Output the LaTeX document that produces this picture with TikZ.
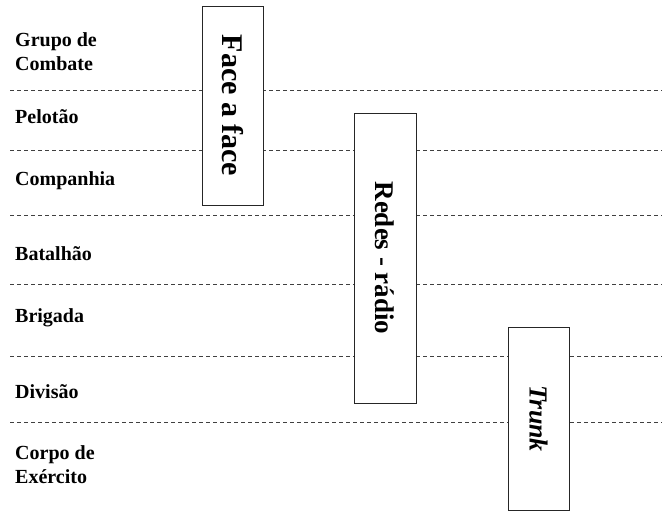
\documentclass[tikz,border=0pt]{standalone}
\usepackage{fontspec}
\setmainfont{Liberation Serif}
\begin{document}
\begin{tikzpicture}[x=1pt,y=-1pt,
  lvl/.style={anchor=base west, inner sep=0pt, font=\fontsize{20}{24}\selectfont\bfseries},
  sepline/.style={draw=black!75, dash pattern=on 4pt off 3pt, line width=1pt},
  band/.style={draw=black!85, line width=1pt, fill=white, rotate=-90, inner sep=0pt, anchor=center}]
\useasboundingbox (0,0) rectangle (665,512);
\fill[white] (0,0) rectangle (665,512);
% separators between levels
\foreach \yy in {90,150,215,284,356,422}
  \draw[sepline] (10,\yy) -- (662,\yy);
% level labels
\node[lvl] (grupo1) at (15,46) {Grupo de};
\node[lvl] (grupo2) at (15,70) {Combate};
\node[lvl] (pelotao) at (15,123) {Pelotão};
\node[lvl] (companhia) at (15,185) {Companhia};
\node[lvl] (batalhao) at (15,260) {Batalhão};
\node[lvl] (brigada) at (15,322) {Brigada};
\node[lvl] (divisao) at (15,398) {Divisão};
\node[lvl] (corpo1) at (15,459) {Corpo de};
\node[lvl] (corpo2) at (15,483) {Exército};
% communication bands
\node[band, minimum width=199pt, minimum height=61pt,
      font=\fontsize{30}{34}\selectfont\bfseries] (face) at (232.5,105.5) {Face a face};
\node[band, minimum width=290pt, minimum height=62pt,
      font=\fontsize{27}{32}\selectfont\bfseries] (redes) at (385,258) {Redes - rádio};
\node[band, minimum width=183pt, minimum height=61pt,
      font=\fontsize{26}{30}\selectfont\bfseries\itshape] (trunk) at (538.5,418.5) {Trunk};
\end{tikzpicture}
\end{document}
